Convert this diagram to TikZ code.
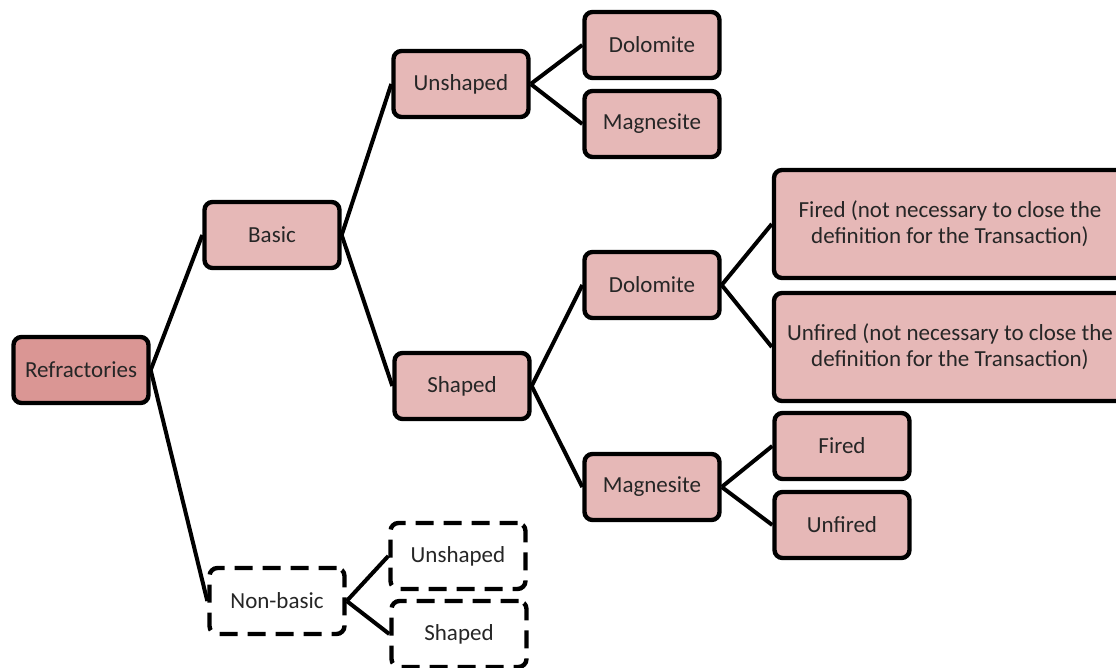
\documentclass[tikz,border=0pt]{standalone}
\usepackage{fontspec}
\setmainfont{Carlito}
\usepackage{tikz}
\usetikzlibrary{positioning}
\definecolor{boxpink}{HTML}{E6B8B7}
\definecolor{rootpink}{HTML}{DA9694}
\definecolor{inktext}{HTML}{262626}

\begin{document}
\begin{tikzpicture}[node distance=95pt,on grid,font=\fontsize{11.5}{13}\selectfont]
    \tikzstyle{item}=[shape=rectangle,rounded corners=4pt,line width=2.2pt,draw,fill=boxpink,
        text=inktext,minimum width=67.5pt,minimum height=33pt,align=center]
    \tikzstyle{root}=[item,fill=rootpink]
    \tikzstyle{wide}=[item,minimum width=176pt,minimum height=54pt]
    \tikzstyle{open}=[item,fill=white,dash pattern=on 9pt off 5pt]
    \tikzstyle{link}=[line width=2pt]

    \useasboundingbox (0,0) rectangle (558pt,-334pt);

    \node[root] (refr) at (40.5pt,-185pt) {Refractories};

    \node[item, above right=67.5pt and 95.5pt of refr] (basic) {Basic};
    \node[open, below right=115.5pt and 98pt of refr] (nonbasic) {Non-basic};

    \node[item, above right=75.5pt and 94.5pt of basic] (unsh) {Unshaped};
    \node[item, below right=75.5pt and 95pt of basic] (sh) {Shaped};

    \node[item, above right=19.5pt and 95.5pt of unsh] (dolo1) {Dolomite};
    \node[item, below right=20pt and 95.5pt of unsh] (magn1) {Magnesite};

    \node[item, above right=50.5pt and 95pt of sh] (dolo2) {Dolomite};
    \node[item, below right=50.5pt and 95pt of sh] (magn2) {Magnesite};

    \node[wide, above right=30.5pt and 149pt of dolo2] (firedL) {Fired (not necessary to close the\\definition for the Transaction)};
    \node[wide, below right=31pt and 149pt of dolo2] (unfiredL) {Unfired (not necessary to close the\\definition for the Transaction)};

    \node[item, above right=20.5pt and 95pt of magn2] (fired) {Fired};
    \node[item, below right=19pt and 95pt of magn2] (unfired) {Unfired};

    \node[open, above right=22.5pt and 90.5pt of nonbasic] (unsh2) {Unshaped};
    \node[open, below right=16.5pt and 91pt of nonbasic] (sh2) {Shaped};

    \path[draw,link]
    (refr.east) edge (basic.west)
    (refr.east) edge (nonbasic.west)
    (basic.east) edge (unsh.west)
    (basic.east) edge (sh.west)
    (unsh.east) edge (dolo1.west)
    (unsh.east) edge (magn1.west)
    (sh.east) edge (dolo2.west)
    (sh.east) edge (magn2.west)
    (dolo2.east) edge (firedL.west)
    (dolo2.east) edge (unfiredL.west)
    (magn2.east) edge (fired.west)
    (magn2.east) edge (unfired.west)
    (nonbasic.east) edge (unsh2.west)
    (nonbasic.east) edge (sh2.west)
    ;

\end{tikzpicture}
\end{document}
